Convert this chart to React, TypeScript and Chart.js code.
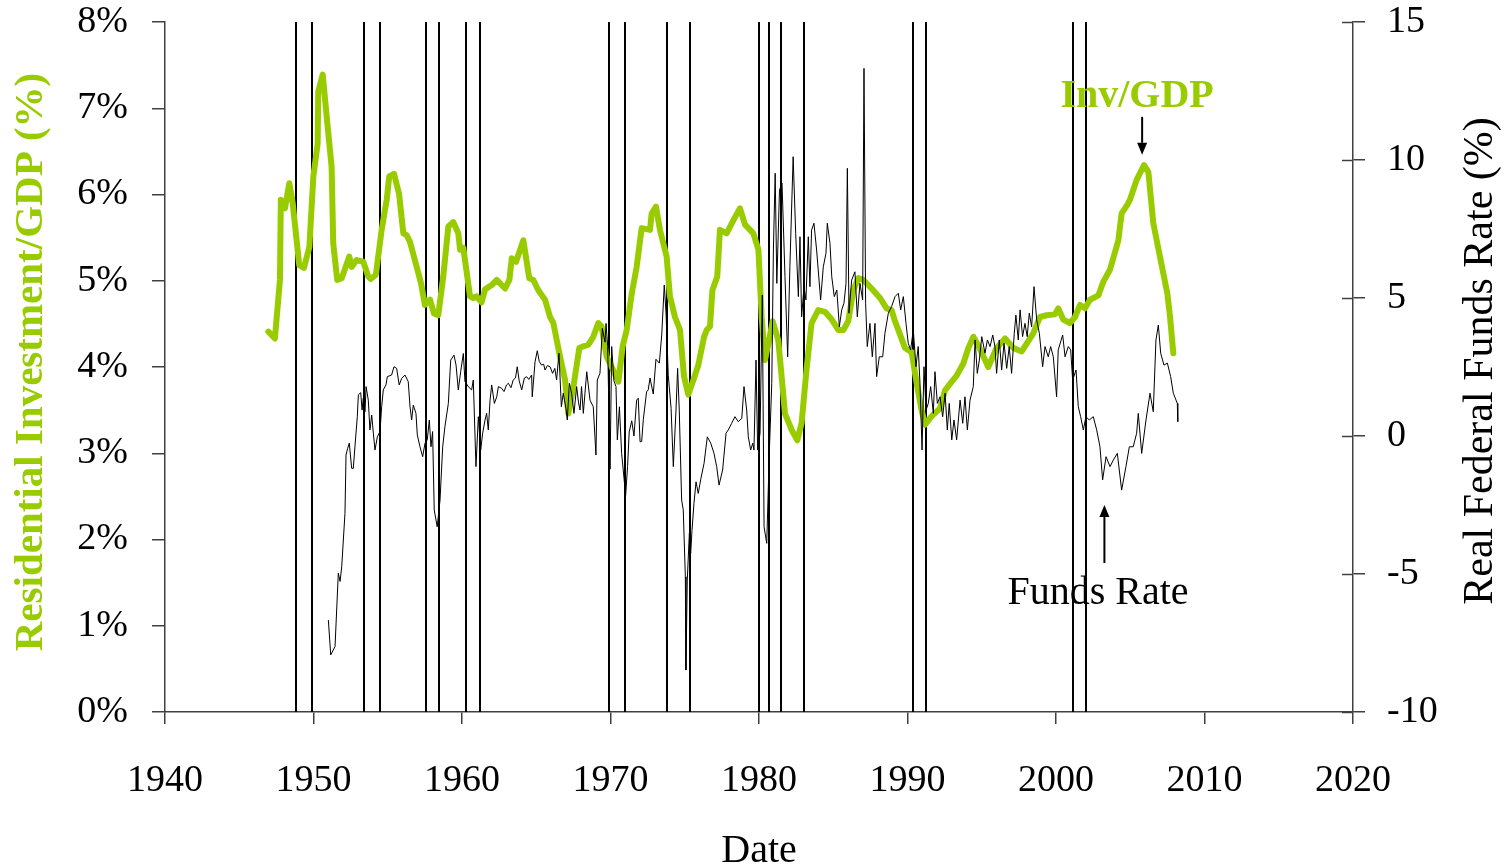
import React, { useEffect, useRef } from 'react';
import { Chart, registerables } from 'chart.js';

Chart.register(...registerables);

// Residential investment / GDP (%), [year, value]
const invGdpPoints: [number, number][] = [
  [1946.96, 4.41], [1947.40, 4.33], [1947.74, 5.01], [1947.80, 5.94], [1948.08, 5.84], [1948.37, 6.13],
  [1948.60, 5.90], [1949.04, 5.18], [1949.36, 5.15], [1949.72, 5.39], [1949.99, 6.21], [1950.28, 6.59],
  [1950.32, 7.19], [1950.62, 7.39], [1950.93, 6.83], [1951.22, 6.32], [1951.33, 5.43], [1951.60, 5.01],
  [1951.90, 5.03], [1952.41, 5.28], [1952.57, 5.16], [1952.90, 5.24], [1953.35, 5.22], [1953.69, 5.05],
  [1953.85, 5.02], [1954.20, 5.07], [1954.59, 5.59], [1954.93, 5.94], [1955.10, 6.21], [1955.42, 6.24],
  [1955.76, 6.01], [1956.05, 5.55], [1956.27, 5.53], [1956.50, 5.45], [1956.95, 5.16], [1957.24, 4.97],
  [1957.50, 4.72], [1957.85, 4.78], [1958.11, 4.62], [1958.40, 4.60], [1958.74, 5.05], [1959.08, 5.63],
  [1959.41, 5.68], [1959.75, 5.55], [1959.87, 5.36], [1960.09, 5.38], [1960.54, 4.82], [1960.76, 4.80],
  [1960.99, 4.82], [1961.32, 4.75], [1961.55, 4.90], [1962.00, 4.95], [1962.34, 5.01], [1962.90, 4.91],
  [1963.19, 5.01], [1963.35, 5.26], [1963.64, 5.22], [1964.13, 5.47], [1964.53, 5.03], [1964.80, 5.01],
  [1965.14, 4.89], [1965.59, 4.78], [1965.93, 4.58], [1966.15, 4.51], [1966.60, 4.12], [1966.94, 3.85],
  [1967.16, 3.46], [1967.50, 3.77], [1967.90, 4.22], [1968.17, 4.24], [1968.51, 4.26], [1968.84, 4.35],
  [1969.18, 4.51], [1969.40, 4.47], [1969.74, 4.12], [1970.08, 4.00], [1970.53, 3.83], [1970.82, 4.24],
  [1971.09, 4.43], [1971.43, 4.85], [1971.76, 5.16], [1972.10, 5.61], [1972.66, 5.59], [1972.77, 5.78],
  [1973.06, 5.86], [1973.33, 5.59], [1973.78, 5.28], [1974.00, 4.82], [1974.34, 4.58], [1974.68, 4.43],
  [1974.95, 3.89], [1975.24, 3.68], [1975.58, 3.85], [1975.91, 4.02], [1976.30, 4.35], [1976.48, 4.43],
  [1976.70, 4.47], [1976.86, 4.89], [1977.19, 5.05], [1977.37, 5.59], [1977.82, 5.55], [1978.27, 5.70],
  [1978.72, 5.84], [1979.06, 5.65], [1979.62, 5.55], [1979.96, 5.36], [1980.18, 4.58], [1980.40, 4.08],
  [1980.63, 4.27], [1980.92, 4.53], [1981.30, 4.31], [1981.75, 3.46], [1982.20, 3.27], [1982.58, 3.15],
  [1982.87, 3.35], [1983.20, 3.97], [1983.54, 4.51], [1983.99, 4.66], [1984.44, 4.64], [1984.90, 4.55],
  [1985.34, 4.43], [1985.68, 4.43], [1986.01, 4.53], [1986.35, 4.89], [1986.69, 5.03], [1987.02, 5.01],
  [1987.58, 4.91], [1988.15, 4.80], [1988.59, 4.68], [1988.93, 4.66], [1989.16, 4.53], [1989.38, 4.43],
  [1989.83, 4.22], [1990.28, 4.17], [1990.61, 3.82], [1990.95, 3.50], [1991.18, 3.33], [1991.63, 3.43],
  [1992.19, 3.52], [1992.53, 3.73], [1992.98, 3.83], [1993.31, 3.90], [1993.76, 4.04], [1994.10, 4.22],
  [1994.44, 4.35], [1994.88, 4.21], [1995.44, 4.00], [1996.00, 4.22], [1996.57, 4.33], [1997.13, 4.22],
  [1997.69, 4.18], [1998.47, 4.39], [1998.92, 4.58], [1999.37, 4.60], [1999.93, 4.61], [2000.15, 4.68],
  [2000.49, 4.55], [2000.94, 4.51], [2001.28, 4.58], [2001.62, 4.72], [2001.95, 4.68], [2002.29, 4.78],
  [2002.85, 4.83], [2003.19, 4.99], [2003.64, 5.13], [2004.20, 5.47], [2004.42, 5.78], [2004.80, 5.88],
  [2004.98, 5.94], [2005.43, 6.17], [2005.93, 6.34], [2006.22, 6.26], [2006.55, 5.67], [2007.00, 5.28],
  [2007.50, 4.85], [2007.68, 4.58], [2007.90, 4.16],
];

// Real federal funds rate (%), [year, value]
const fundsRatePoints: [number, number][] = [
  [1951.00, -6.67], [1951.16, -7.93], [1951.45, -7.63], [1951.67, -4.97], [1951.79, -5.27], [1951.90, -4.74],
  [1952.12, -2.80], [1952.19, -0.69], [1952.30, -0.45], [1952.41, -0.26], [1952.57, -1.17], [1952.68, -1.17],
  [1952.79, -0.39], [1952.95, 0.70], [1953.02, 1.49], [1953.18, 1.57], [1953.27, 0.94], [1953.35, 1.37],
  [1953.47, 0.88], [1953.54, 1.79], [1953.69, 1.30], [1953.80, 0.22], [1953.92, 0.76], [1954.03, 0.10],
  [1954.14, -0.51], [1954.30, -0.03], [1954.48, 0.16], [1954.59, 1.06], [1954.70, 1.67], [1954.88, 1.85],
  [1954.97, 2.15], [1955.26, 2.21], [1955.42, 2.51], [1955.60, 2.45], [1955.77, 1.85], [1955.94, 2.09],
  [1956.16, 2.21], [1956.38, 1.97], [1956.50, 1.06], [1956.61, 0.58], [1956.72, 1.12], [1956.90, 0.82],
  [1956.99, 0.04], [1957.17, -0.39], [1957.35, -0.75], [1957.51, -0.26], [1957.66, -0.14], [1957.80, 0.58],
  [1957.91, -0.39], [1958.02, 0.16], [1958.13, -2.68], [1958.33, -3.29], [1958.52, -2.32], [1958.70, -0.39],
  [1958.85, 0.34], [1959.08, 1.18], [1959.24, 2.75], [1959.46, 2.93], [1959.60, 2.57], [1959.75, 1.67],
  [1959.91, 2.33], [1960.09, 2.99], [1960.20, 1.97], [1960.42, 1.79], [1960.65, 1.67], [1960.76, 2.03],
  [1960.94, -1.11], [1961.10, 0.70], [1961.26, -0.51], [1961.39, 0.10], [1961.55, 0.58], [1961.66, 0.82],
  [1961.77, 0.22], [1961.89, 1.30], [1962.00, 1.85], [1962.18, 1.18], [1962.34, 1.42], [1962.45, 1.79],
  [1962.67, 1.73], [1962.83, 1.61], [1963.00, 1.85], [1963.12, 1.91], [1963.30, 1.75], [1963.45, 2.03],
  [1963.60, 2.10], [1963.72, 2.51], [1963.85, 2.00], [1964.02, 1.67], [1964.20, 2.10], [1964.35, 2.15],
  [1964.50, 2.05], [1964.69, 2.21], [1964.73, 1.42], [1964.92, 2.69], [1965.07, 3.09], [1965.20, 2.70],
  [1965.36, 2.57], [1965.50, 2.60], [1965.59, 2.39], [1965.75, 2.55], [1965.93, 2.51], [1966.10, 2.27],
  [1966.25, 2.45], [1966.37, 2.03], [1966.53, 3.00], [1966.69, 1.06], [1966.82, 1.55], [1967.00, 1.00],
  [1967.09, 0.58], [1967.23, 1.91], [1967.38, 1.55], [1967.54, 0.82], [1967.72, 1.79], [1967.85, 1.20],
  [1967.95, 0.94], [1968.05, 1.79], [1968.17, 0.82], [1968.28, 1.55], [1968.40, 2.33], [1968.62, 1.30],
  [1968.84, 1.06], [1969.02, -0.69], [1969.11, 2.03], [1969.29, 2.27], [1969.45, 3.90], [1969.63, 3.40],
  [1969.70, 4.08], [1969.81, 3.24], [1969.97, -1.20], [1970.08, 3.24], [1970.23, 2.00], [1970.37, 1.79],
  [1970.46, -0.14], [1970.60, 1.06], [1970.75, -0.63], [1971.02, -2.15], [1971.15, -1.10], [1971.26, 0.15],
  [1971.43, 0.55], [1971.58, 0.00], [1971.76, 1.30], [1971.87, 1.37], [1971.99, -0.21], [1972.10, -0.20],
  [1972.21, 0.60], [1972.43, 1.60], [1972.54, 1.67], [1972.66, 2.10], [1972.88, 1.52], [1973.06, 2.78],
  [1973.29, 2.64], [1973.45, 3.66], [1973.62, 5.47], [1973.74, 4.45], [1973.89, 2.20], [1974.08, 1.00],
  [1974.23, -1.11], [1974.41, 0.94], [1974.52, 2.45], [1974.63, 0.94], [1974.79, -2.32], [1974.90, -2.68],
  [1975.04, -5.10], [1975.08, -8.48], [1975.17, -5.22], [1975.31, -3.53], [1975.40, -4.25], [1975.49, -3.41],
  [1975.62, -2.44], [1975.76, -1.66], [1975.91, -2.08], [1976.07, -1.59], [1976.30, -0.99], [1976.52, -0.03],
  [1976.75, -0.26], [1976.97, -0.63], [1977.15, -1.11], [1977.31, -1.78], [1977.55, -1.23], [1977.78, 0.10],
  [1977.93, 0.22], [1978.16, 0.46], [1978.38, 0.70], [1978.60, 0.52], [1978.84, 0.64], [1978.99, 1.79],
  [1979.17, 0.94], [1979.28, -0.03], [1979.44, -0.51], [1979.58, -0.26], [1979.66, -0.51], [1979.80, 2.75],
  [1979.91, -0.51], [1980.07, 0.10], [1980.22, 5.11], [1980.34, -3.29], [1980.52, -3.89], [1980.70, -0.51],
  [1980.86, 1.91], [1980.97, 6.74], [1981.09, 9.52], [1981.20, 5.53], [1981.38, 8.91], [1981.55, 9.16],
  [1981.75, 5.77], [1981.93, 2.87], [1982.08, 6.13], [1982.30, 10.12], [1982.47, 7.34], [1982.65, 5.05],
  [1982.76, 7.22], [1982.87, 4.32], [1983.03, 5.41], [1983.16, 4.93], [1983.32, 7.22], [1983.43, 5.41],
  [1983.54, 7.46], [1983.70, 7.71], [1983.88, 6.74], [1984.15, 4.93], [1984.33, 6.13], [1984.51, 6.62],
  [1984.60, 7.71], [1984.78, 6.98], [1984.90, 5.77], [1985.07, 5.05], [1985.24, 5.29], [1985.41, 3.96],
  [1985.57, 4.57], [1985.72, 4.81], [1985.86, 5.53], [1985.95, 9.70], [1986.06, 4.45], [1986.24, 5.65],
  [1986.46, 5.95], [1986.62, 4.32], [1986.80, 5.53], [1986.98, 4.93], [1987.07, 13.32], [1987.18, 4.81],
  [1987.29, 3.24], [1987.47, 4.08], [1987.63, 2.87], [1987.81, 4.08], [1987.92, 2.15], [1988.10, 2.87],
  [1988.33, 2.87], [1988.48, 3.72], [1988.71, 4.45], [1988.93, 4.69], [1989.16, 5.05], [1989.38, 5.17],
  [1989.54, 4.57], [1989.72, 5.05], [1989.90, 4.08], [1990.05, 3.36], [1990.21, 3.12], [1990.39, 3.84],
  [1990.57, 2.51], [1990.72, 3.24], [1990.84, 1.91], [1990.98, -0.51], [1991.11, 2.51], [1991.25, 0.94],
  [1991.40, 1.18], [1991.56, 1.79], [1991.74, 0.82], [1991.85, 2.33], [1992.01, 1.18], [1992.19, 1.42],
  [1992.37, 0.70], [1992.53, 1.55], [1992.68, 0.22], [1992.81, 1.18], [1992.98, -0.14], [1993.13, 0.58],
  [1993.31, -0.14], [1993.54, 1.30], [1993.72, 0.46], [1993.87, 1.42], [1994.03, 0.22], [1994.21, 1.30],
  [1994.43, 1.79], [1994.55, 3.48], [1994.70, 2.27], [1994.84, 2.75], [1995.00, 3.60], [1995.22, 3.00],
  [1995.38, 3.48], [1995.56, 3.24], [1995.74, 3.66], [1995.89, 3.24], [1996.00, 2.27], [1996.18, 3.48],
  [1996.34, 2.39], [1996.50, 3.36], [1996.68, 2.45], [1996.85, 3.24], [1997.01, 2.27], [1997.19, 3.72],
  [1997.30, 4.38], [1997.46, 3.48], [1997.58, 4.57], [1997.75, 3.60], [1997.91, 4.08], [1998.06, 3.60],
  [1998.20, 4.45], [1998.36, 3.96], [1998.52, 5.41], [1998.70, 4.20], [1998.88, 3.72], [1999.10, 2.51],
  [1999.26, 3.24], [1999.48, 2.87], [1999.64, 3.24], [1999.82, 2.87], [2000.04, 1.42], [2000.15, 3.12],
  [2000.45, 3.66], [2000.61, 2.87], [2000.83, 3.24], [2000.99, 3.12], [2001.12, 2.03], [2001.35, 2.39],
  [2001.50, 1.06], [2001.66, 0.70], [2001.84, 0.22], [2002.02, 0.70], [2002.24, 0.58], [2002.51, 0.70],
  [2002.74, 0.22], [2002.96, -0.39], [2003.14, -1.59], [2003.37, -0.75], [2003.64, -1.11], [2003.86, -0.87],
  [2004.13, -0.63], [2004.42, -1.96], [2004.71, -1.11], [2004.94, -0.39], [2005.20, -0.39], [2005.43, 0.10],
  [2005.54, 0.82], [2005.77, -0.63], [2006.06, 0.58], [2006.33, 1.55], [2006.55, 0.88], [2006.73, 3.48],
  [2006.89, 4.02], [2007.05, 3.00], [2007.27, 2.57], [2007.50, 2.64], [2007.72, 2.15], [2007.90, 1.55],
  [2008.17, 1.18], [2008.20, 0.52],
];

// Recession start / end dates (vertical lines)
const recessionDates: number[] = [
  1948.81, 1949.92, 1953.41, 1954.51, 1957.58, 1958.44, 1960.27, 1961.23, 1969.92, 1970.98,
  1973.82, 1975.35, 1980.0, 1980.67, 1981.48, 1983.03, 1990.39, 1991.25, 2001.16, 2002.0,
];

const xRange = { min: 1940, max: 2020, step: 10 };
const leftRange = { min: 0, max: 8, step: 1 };
const rightRange = { min: -10, max: 15, step: 5 };

const leftTitle = 'Residential Investment/GDP (%)';
const rightTitle = 'Real Federal Funds Rate (%)';
const xTitle = 'Date';
const invLabel = 'Inv/GDP';
const fundsLabel = 'Funds Rate';

const FONT = '"Liberation Serif", "Times New Roman", Times, serif';
const GREEN = '#99CC00';
const AXIS = '#404040';

function arrow(ctx: CanvasRenderingContext2D, x: number, yFrom: number, yTip: number) {
  const dir = yTip > yFrom ? 1 : -1;
  const head = 12;
  ctx.beginPath();
  ctx.moveTo(x, yFrom);
  ctx.lineTo(x, yTip - dir * head);
  ctx.stroke();
  ctx.beginPath();
  ctx.moveTo(x, yTip);
  ctx.lineTo(x - 5, yTip - dir * head);
  ctx.lineTo(x + 5, yTip - dir * head);
  ctx.closePath();
  ctx.fill();
}

const decorPlugin = {
  id: 'decor',
  beforeDatasetsDraw(chart: any) {
    const { ctx, chartArea, scales } = chart;
    ctx.save();
    ctx.strokeStyle = '#000';
    ctx.lineWidth = 2;
    recessionDates.forEach((d) => {
      const x = Math.round(scales.x.getPixelForValue(d));
      ctx.beginPath();
      ctx.moveTo(x, chartArea.top);
      ctx.lineTo(x, chartArea.bottom);
      ctx.stroke();
    });
    // inner half of right-axis ticks
    ctx.strokeStyle = AXIS;
    ctx.lineWidth = 1.5;
    scales.y2.ticks.forEach((t: any) => {
      const y = Math.round(scales.y2.getPixelForValue(t.value)) + 0.5;
      ctx.beginPath();
      ctx.moveTo(chartArea.right - 11, y);
      ctx.lineTo(chartArea.right, y);
      ctx.stroke();
    });
    ctx.restore();
  },
  afterDraw(chart: any) {
    const { ctx, chartArea, scales } = chart;
    ctx.save();
    // left title
    ctx.fillStyle = GREEN;
    ctx.font = `bold 41px ${FONT}`;
    ctx.textAlign = 'center';
    ctx.textBaseline = 'middle';
    ctx.translate(31, 362);
    ctx.rotate(-Math.PI / 2);
    ctx.fillText(leftTitle, 0, 0);
    ctx.restore();

    ctx.save();
    ctx.fillStyle = '#000';
    ctx.font = `42px ${FONT}`;
    ctx.textAlign = 'center';
    ctx.textBaseline = 'middle';
    ctx.translate(1481, 361);
    ctx.rotate(-Math.PI / 2);
    ctx.fillText(rightTitle, 0, 0);
    ctx.restore();

    ctx.save();
    ctx.fillStyle = '#000';
    ctx.font = `40px ${FONT}`;
    ctx.textAlign = 'center';
    ctx.textBaseline = 'alphabetic';
    ctx.fillText(xTitle, (chartArea.left + chartArea.right) / 2, 862);

    // annotations
    const x = scales.x, yl = scales.y, yr = scales.y2;
    ctx.fillStyle = GREEN;
    ctx.font = `bold 40px ${FONT}`;
    ctx.fillText(invLabel, x.getPixelForValue(2005.46), yl.getPixelForValue(7.01));
    ctx.fillStyle = '#000';
    ctx.font = `40px ${FONT}`;
    ctx.fillText(fundsLabel, x.getPixelForValue(2002.83), yr.getPixelForValue(-6.09));

    ctx.strokeStyle = '#000';
    ctx.fillStyle = '#000';
    ctx.lineWidth = 2;
    arrow(ctx, x.getPixelForValue(2005.8), yl.getPixelForValue(6.9), yl.getPixelForValue(6.46));
    arrow(ctx, x.getPixelForValue(2003.26), yr.getPixelForValue(-4.6), yr.getPixelForValue(-2.5));
    ctx.restore();
  },
};

export default function App() {
  const canvasRef = useRef<HTMLCanvasElement | null>(null);

  useEffect(() => {
    if (!canvasRef.current) return;
    const tickFont = { family: FONT, size: 38 };
    const chart = new Chart(canvasRef.current, {
      type: 'line',
      data: {
        datasets: [
          {
            label: 'Real Federal Funds Rate',
            data: fundsRatePoints.map(([x, y]) => ({ x, y })),
            yAxisID: 'y2',
            borderColor: '#000',
            borderWidth: 1,
            pointRadius: 0,
            tension: 0,
            order: 0,
          },
          {
            label: 'Inv/GDP',
            data: invGdpPoints.map(([x, y]) => ({ x, y })),
            yAxisID: 'y',
            borderColor: GREEN,
            borderWidth: 6,
            pointRadius: 0,
            tension: 0,
            borderJoinStyle: 'round',
            borderCapStyle: 'round',
            order: 1,
          },
        ],
      },
      options: {
        animation: false,
        responsive: false,
        layout: { padding: { top: 22, left: 0, right: 0, bottom: 0 } },
        plugins: { legend: { display: false }, tooltip: { enabled: false } },
        scales: {
          x: {
            type: 'linear',
            position: 'bottom',
            min: xRange.min,
            max: xRange.max,
            ticks: {
              stepSize: xRange.step,
              callback: (v: any) => String(v),
              font: tickFont,
              color: '#000',
              padding: 34,
              maxRotation: 0,
              autoSkip: false,
            },
            grid: { drawOnChartArea: false, drawTicks: true, tickLength: 12, color: AXIS, lineWidth: 1.5 },
            border: { display: true, color: AXIS, width: 1.5 },
            afterFit: (s: any) => { s.height = 156; s.paddingLeft = 0; s.paddingRight = 0; },
          },
          y: {
            type: 'linear',
            position: 'left',
            min: leftRange.min,
            max: leftRange.max,
            ticks: {
              stepSize: leftRange.step,
              callback: (v: any) => `${v}%`,
              font: tickFont,
              color: '#000',
              padding: 24,
            },
            grid: { drawOnChartArea: false, drawTicks: true, tickLength: 13, color: AXIS, lineWidth: 1.5 },
            border: { display: true, color: AXIS, width: 1.5 },
            afterFit: (s: any) => { s.width = 165; s.paddingTop = 0; s.paddingBottom = 0; },
          },
          y2: {
            type: 'linear',
            position: 'right',
            min: rightRange.min,
            max: rightRange.max,
            ticks: {
              stepSize: rightRange.step,
              callback: (v: any) => String(v),
              font: tickFont,
              color: '#000',
              padding: 22,
            },
            grid: { drawOnChartArea: false, drawTicks: true, tickLength: 12, color: AXIS, lineWidth: 1.5 },
            border: { display: true, color: AXIS, width: 1.5 },
            afterFit: (s: any) => { s.width = 156; s.paddingTop = 0; s.paddingBottom = 0; },
          },
        },
      },
      plugins: [decorPlugin],
    } as any);
    return () => chart.destroy();
  }, []);

  return (
    <div style={{ position: 'absolute', left: 0, top: 0, width: 1509, height: 868, background: '#fff' }}>
      <canvas ref={canvasRef} width={1509} height={868} style={{ display: 'block' }} />
    </div>
  );
}
